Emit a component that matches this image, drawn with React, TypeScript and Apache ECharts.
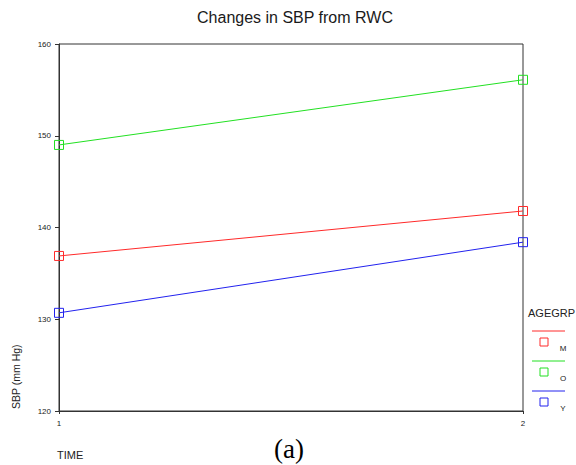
import React, { useEffect, useRef } from "react";
import * as echarts from "echarts";

const title = "Changes in SBP from RWC";
const timePoints = [1, 2];
const groupNames = ["M", "O", "Y"];
const groupColors = ["#ff2a2a", "#22e022", "#2222ee"];
const seriesM = [136.9, 141.8];
const seriesO = [149.0, 156.1];
const seriesY = [130.7, 138.4];
const yTicks = { min: 120, max: 160, interval: 10 };

export default function App() {
  const ref = useRef<HTMLDivElement>(null);
  useEffect(() => {
    if (!ref.current) return;
    const chart = echarts.init(ref.current, null, { renderer: "svg" });
    const values = [seriesM, seriesO, seriesY];
    const font = "'Liberation Sans', Arial, sans-serif";
    const legendItems: any[] = [];
    groupNames.forEach((n, i) => {
      const y0 = 331 + i * 30;
      legendItems.push(
        { type: "line", shape: { x1: 532, y1: y0, x2: 565, y2: y0 }, style: { stroke: groupColors[i], lineWidth: 1 } },
        { type: "rect", shape: { x: 540, y: y0 + 7, width: 8, height: 8 }, style: { fill: "none", stroke: groupColors[i], lineWidth: 1 } },
        { type: "text", x: 563, y: y0 + 17, style: { text: n, font: `8px ${font}`, fill: "#222", textAlign: "center", textVerticalAlign: "middle" } }
      );
    });
    chart.setOption({
      animation: false,
      backgroundColor: "#fff",
      title: {
        text: title,
        left: 290,
        top: 4,
        textAlign: "center",
        textStyle: { fontFamily: font, fontSize: 16, fontWeight: "normal", color: "#1a1a1a" },
      },
      grid: { left: 59, top: 44, right: 53, bottom: 54, show: true, borderColor: "#333", borderWidth: 1 },
      xAxis: {
        type: "value",
        min: timePoints[0],
        max: timePoints[timePoints.length - 1],
        interval: 1,
        splitLine: { show: false },
        axisLine: { lineStyle: { color: "#333" } },
        axisTick: { length: 3, lineStyle: { color: "#333" } },
        axisLabel: { fontSize: 8, color: "#222", fontFamily: font, margin: 8 },
      },
      yAxis: {
        type: "value",
        min: yTicks.min,
        max: yTicks.max,
        interval: yTicks.interval,
        splitLine: { show: false },
        axisLine: { show: true, lineStyle: { color: "#333" } },
        axisTick: { show: true, length: 4, lineStyle: { color: "#333" } },
        axisLabel: { fontSize: 8, color: "#222", fontFamily: font, margin: 8 },
      },
      series: groupNames.map((n, i) => ({
        name: n,
        type: "line",
        data: timePoints.map((t, j) => [t, values[i][j]]),
        symbol: "rect",
        symbolSize: 9,
        showSymbol: true,
        lineStyle: { color: groupColors[i], width: 1 },
        itemStyle: { color: "none", borderColor: groupColors[i], borderWidth: 1 },
        z: 3,
      })),
      graphic: [
        {
          type: "text",
          x: 16,
          y: 409,
          rotation: Math.PI / 2,
          style: { text: "SBP (mm Hg)", font: `10.5px ${font}`, fill: "#222", textAlign: "left", textVerticalAlign: "middle" },
        },
        { type: "text", x: 57, y: 455, style: { text: "TIME", font: `11px ${font}`, fill: "#222", textAlign: "left", textVerticalAlign: "middle" } },
        { type: "text", x: 289, y: 449, style: { text: "(a)", font: `27px 'Liberation Serif', 'Times New Roman', serif`, fill: "#000", textAlign: "center", textVerticalAlign: "middle" } },
        { type: "text", x: 528, y: 313, style: { text: "AGEGRP", font: `11px ${font}`, fill: "#222", textAlign: "left", textVerticalAlign: "middle" } },
        ...legendItems,
      ],
    });
    return () => chart.dispose();
  }, []);
  return <div ref={ref} style={{ width: 576, height: 465, position: "absolute", left: 0, top: 0 }} />;
}
